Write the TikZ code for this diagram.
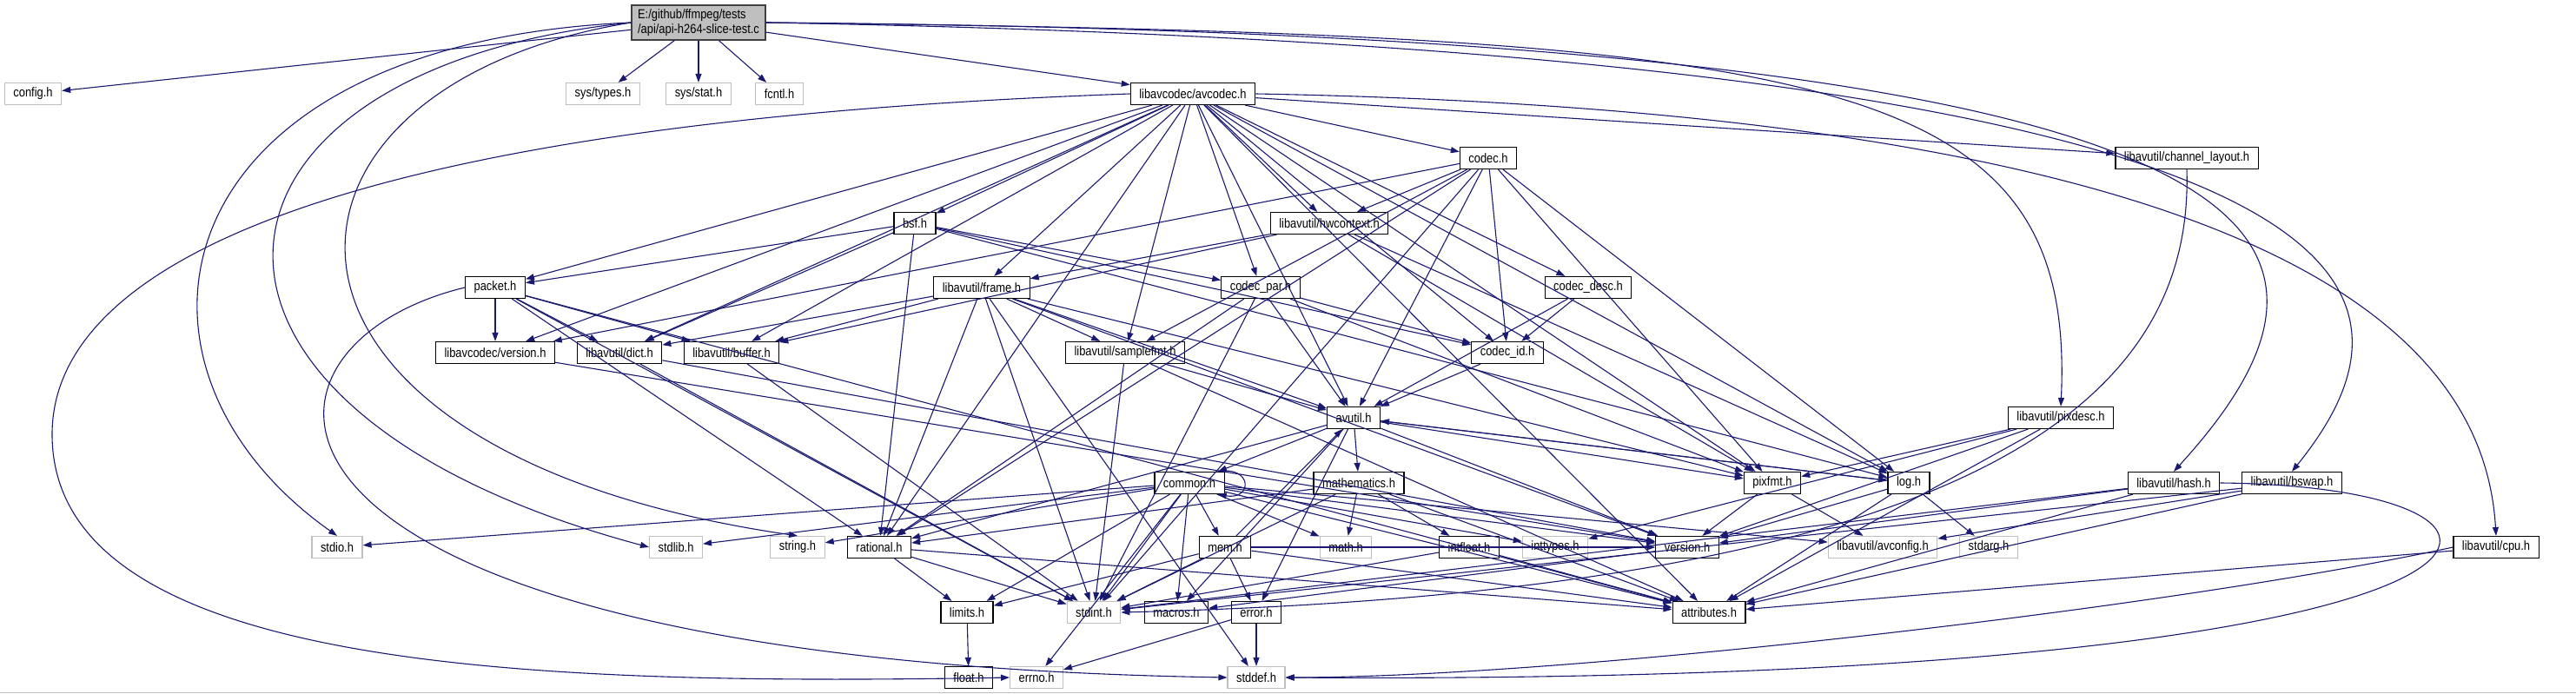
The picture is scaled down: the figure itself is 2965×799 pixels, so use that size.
\documentclass[tikz,border=0pt]{standalone}
\usepackage{fontspec}
\setmainfont{Liberation Sans}[FakeStretch=0.86]
\usepackage{tikz}
\usetikzlibrary{arrows.meta}

\definecolor{edgeblue}{HTML}{191970}
\definecolor{sysgray}{HTML}{BFBFBF}

\begin{document}
\begin{tikzpicture}[
    x=1pt, y=-1pt,
    hdr/.style={draw=black, line width=1.2pt, fill=white, minimum height=25pt,
                inner xsep=10pt, inner ysep=0pt, font=\fontsize{15}{17}\selectfont},
    sys/.style={hdr, draw=sysgray},
    src/.style={hdr, fill=sysgray, draw=black!75, line width=1.5pt, minimum height=40pt,
                inner xsep=7pt, align=left},
    inc/.style={-{Triangle[length=10pt, width=7pt]}, line width=1.1pt, edgeblue},
]
\useasboundingbox (0,0) rectangle (2965,799);
\draw[sysgray, line width=1pt] (0,797) -- (2965,797);

% --- source file ---
\node[src] (main) at (804,26) {E:/github/ffmpeg/tests\\/api/api-h264-slice-test.c};

% --- row 1 ---
\node[sys] (config) at (38,108) {config.h};
\node[sys] (systypes) at (694,108) {sys/types.h};
\node[sys] (sysstat) at (804,108) {sys/stat.h};
\node[sys] (fcntl) at (897,108) {fcntl.h};
\node[hdr] (avcodec) at (1373,108) {libavcodec/avcodec.h};

% --- libavcodec headers ---
\node[hdr] (codec) at (1713,182) {codec.h};
\node[hdr] (chlayout) at (2517,182) {libavutil/channel\_layout.h};
\node[hdr] (bsf) at (1053,257) {bsf.h};
\node[hdr] (hwcontext) at (1530,257) {libavutil/hwcontext.h};
\node[hdr] (packet) at (570,331) {packet.h};
\node[hdr] (frame) at (1130,331) {libavutil/frame.h};
\node[hdr] (codecpar) at (1451,331) {codec\_par.h};
\node[hdr] (codecdesc) at (1828,331) {codec\_desc.h};
\node[hdr] (lavcversion) at (570,406) {libavcodec/version.h};
\node[hdr] (dict) at (713,406) {libavutil/dict.h};
\node[hdr] (buffer) at (842,406) {libavutil/buffer.h};
\node[hdr] (samplefmt) at (1295,406) {libavutil/samplefmt.h};
\node[hdr] (codecid) at (1735,406) {codec\_id.h};

% --- libavutil headers ---
\node[hdr] (avutil) at (1558,481) {avutil.h};
\node[hdr] (pixdesc) at (2372,481) {libavutil/pixdesc.h};
\node[hdr] (common) at (1369,556) {common.h};
\node[hdr] (mathematics) at (1564,556) {mathematics.h};
\node[hdr] (pixfmt) at (2040,556) {pixfmt.h};
\node[hdr] (log) at (2197,556) {log.h};
\node[hdr] (hash) at (2502,556) {libavutil/hash.h};
\node[hdr] (bswap) at (2638,556) {libavutil/bswap.h};

\node[sys] (stdio) at (388,630) {stdio.h};
\node[sys] (stdlib) at (778,630) {stdlib.h};
\node[sys] (string) at (918,630) {string.h};
\node[hdr] (rational) at (1012,630) {rational.h};
\node[hdr] (mem) at (1410,630) {mem.h};
\node[sys] (math) at (1549,630) {math.h};
\node[hdr] (intfloat) at (1691,630) {intfloat.h};
\node[sys] (inttypes) at (1790,630) {inttypes.h};
\node[hdr] (version) at (1942,630) {version.h};
\node[sys] (avconfig) at (2167,630) {libavutil/avconfig.h};
\node[sys] (stdarg) at (2289,630) {stdarg.h};
\node[hdr] (cpu) at (2873,630) {libavutil/cpu.h};

\node[hdr] (limits) at (1113,705) {limits.h};
\node[sys] (stdint) at (1259,705) {stdint.h};
\node[hdr] (macros) at (1354,705) {macros.h};
\node[hdr] (error) at (1446,705) {error.h};
\node[hdr] (attributes) at (1967,705) {attributes.h};

\node[hdr] (float) at (1115,780) {float.h};
\node[sys] (errno) at (1193,780) {errno.h};
\node[sys] (stddef) at (1446,780) {stddef.h};

% --- include edges ---
\foreach \a/\b in {main/config, main/systypes, main/sysstat, main/fcntl, main/avcodec,
    avcodec/samplefmt, avcodec/attributes, avcodec/avutil, avcodec/buffer,
    avcodec/chlayout, avcodec/dict, avcodec/frame, avcodec/hwcontext, avcodec/log,
    avcodec/pixfmt, avcodec/rational, avcodec/bsf, avcodec/codec, avcodec/codecdesc,
    avcodec/codecpar, avcodec/codecid, avcodec/packet, avcodec/lavcversion,
    bsf/dict, bsf/log, bsf/rational, bsf/codecid, bsf/codecpar, bsf/packet,
    codec/stdint, codec/avutil, codec/hwcontext, codec/log, codec/pixfmt,
    codec/rational, codec/samplefmt, codec/codecid, codec/lavcversion,
    codecdesc/avutil, codecdesc/codecid, codecid/avutil,
    codecpar/stdint, codecpar/avutil, codecpar/rational, codecpar/pixfmt, codecpar/codecid,
    packet/stdint, packet/attributes, packet/buffer, packet/dict,
    packet/rational, packet/lavcversion, lavcversion/version,
    frame/stddef, frame/stdint, frame/avutil, frame/buffer, frame/dict, frame/rational,
    frame/samplefmt, frame/pixfmt, frame/version,
    hwcontext/buffer, hwcontext/frame, hwcontext/log, hwcontext/pixfmt,
    samplefmt/stdint, samplefmt/avutil, samplefmt/attributes,
    dict/stdint, dict/version, buffer/stdint,
    avutil/common, avutil/error, avutil/macros, avutil/mathematics, avutil/rational,
    avutil/version, avutil/log, avutil/pixfmt,
    common/errno, common/inttypes, common/limits, common/math, common/stdint,
    common/stdio, common/stdlib, common/string, common/attributes, common/macros,
    common/version, common/avconfig, common/mem,
    mem/limits, mem/stdint, mem/attributes, mem/error, mem/avutil, mem/version,
    error/errno, error/stddef,
    mathematics/stdint, mathematics/math, mathematics/attributes,
    mathematics/rational, mathematics/intfloat,
    intfloat/stdint, intfloat/attributes,
    rational/stdint, rational/limits, rational/attributes,
    version/macros, log/stdarg, log/avutil, log/attributes, log/version,
    pixfmt/avconfig, pixfmt/version,
    pixdesc/inttypes, pixdesc/attributes, pixdesc/pixfmt, pixdesc/version,
    hash/stdint, hash/attributes, hash/version,
    bswap/stdint, bswap/avconfig, bswap/attributes,
    cpu/attributes, limits/float}
    \draw[inc] (\a) -- (\b);

% long edges round the outside
\draw[inc] (main.west) .. controls (180,50) and (110,420) .. (stdio.north);
\draw[inc] (main.west) .. controls (200,80) and (150,470) .. (stdlib.west);
\draw[inc] (main.west) .. controls (270,100) and (250,520) .. (string.north);
\draw[inc] (main.east) .. controls (2100,40) and (2390,80) .. (pixdesc.north);
\draw[inc] (main.east) .. controls (2650,40) and (2760,260) .. (hash.north);
\draw[inc] (main.east) .. controls (2780,60) and (2810,330) .. (bswap.north);
\draw[inc] (avcodec.east) .. controls (2650,130) and (2860,400) .. (cpu.north);
\draw[inc] (avcodec.west) .. controls (400,140) and (60,300) .. (60,500)
    .. controls (60,770) and (600,790) .. (errno.west);
\draw[inc] (packet.west) .. controls (250,400) and (230,760) .. (stddef.west);
\draw[inc] (chlayout.south) .. controls (2525,450) and (2300,680) .. (stdint.east);
\draw[inc] (hash.east) .. controls (3000,560) and (2980,790) .. (stddef.east);
\draw[inc] (cpu.west) .. controls (2500,700) and (1800,780) .. (stddef.east);
\draw[inc] ([xshift=-8pt]common.north east) to[out=10, in=-10, looseness=4]
    ([xshift=-8pt]common.south east);
\end{tikzpicture}
\end{document}
